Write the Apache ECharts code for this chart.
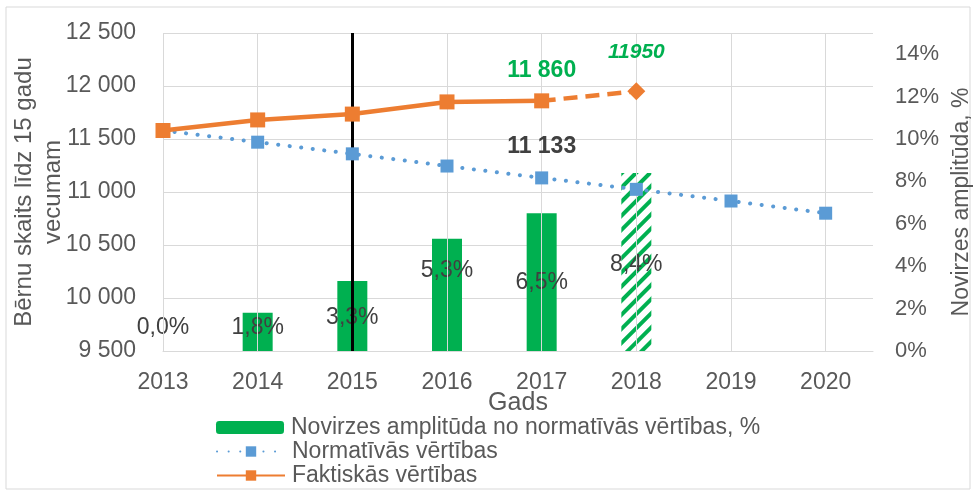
<!DOCTYPE html>
<html><head><meta charset="utf-8">
<script src="https://cdn.jsdelivr.net/npm/echarts@6/dist/echarts.min.js"></script>
<style>html,body{margin:0;padding:0;background:#fff}#c{width:976px;height:493px}</style>
</head><body><div id="c"></div>
<script>
const years = [2013, 2014, 2015, 2016, 2017, 2018, 2019, 2020];
const barYears = [2013, 2014, 2015, 2016, 2017, 2018];
const deviationPct = [0, 1.8, 3.3, 5.3, 6.5, 8.4];
const normative = [11580, 11470, 11360, 11245, 11133, 11025, 10915, 10800];
const actualYears = [2013, 2014, 2015, 2016, 2017];
const actual = [11580, 11680, 11735, 11850, 11860];
const forecastYears = [2017, 2018];
const forecast = [11860, 11950];
const leftTicks = [9500, 10000, 10500, 11000, 11500, 12000, 12500];
const rightTicks = [0, 2, 4, 6, 8, 10, 12, 14];
const legendNames = ['Novirzes amplitūda no normatīvās vērtības, %', 'Normatīvās vērtības', 'Faktiskās vērtības'];

const FONT = 'Liberation Sans, Arial, sans-serif';
const GREY = '#595959';
const fmtThousands = v => String(v).replace(/\B(?=(\d{3})+(?!\d))/g, ' ');
const fmtPct = v => v.toFixed(1).replace('.', ',') + '%';
const barLabelOffsets = [-23, -4, 2, -24, 1, 3];
const legendTops = [416, 440, 464];

const chart = echarts.init(document.getElementById('c'));
chart.setOption({
  animation: false,
  textStyle: {fontFamily: FONT},
  graphic: [{type: 'rect', shape: {x: 6, y: 7, width: 964, height: 482}, style: {fill: 'none', stroke: '#d9d9d9', lineWidth: 1}, silent: true}],
  grid: {left: 163, right: 103, top: 33, bottom: 142, containLabel: false, outerBoundsMode: 'none'},
  legend: legendNames.map((n, i) => ({
    orient: 'vertical', left: 216, top: legendTops[i], itemWidth: 68, itemHeight: 13, padding: 0,
    data: [n],
    textStyle: {fontSize: 23, color: GREY, fontFamily: FONT, padding: [0, 0, 0, 2]}
  })),
  xAxis: {
    type: 'value', min: 2013, max: 2020.5, interval: 1,
    name: 'Gads', nameLocation: 'middle', nameGap: 40, nameMoveOverlap: false,
    nameTextStyle: {fontSize: 25, color: GREY},
    axisLine: {show: true, lineStyle: {color: '#d9d9d9'}},
    axisTick: {show: false},
    splitLine: {show: false},
    axisLabel: {fontSize: 23, color: GREY, margin: 20, showMaxLabel: false, formatter: v => String(v)}
  },
  yAxis: [{
    type: 'value', min: leftTicks[0], max: leftTicks[leftTicks.length - 1], interval: 500,
    name: 'Bērnu skaits līdz 15 gadu\nvecumam', nameLocation: 'middle', nameGap: 95, nameRotate: 90, nameMoveOverlap: false,
    nameTextStyle: {fontSize: 24, color: GREY, lineHeight: 29},
    axisLine: {show: false}, axisTick: {show: false},
    splitLine: {lineStyle: {color: '#d9d9d9', width: 1}},
    axisLabel: {fontSize: 23, color: GREY, margin: 27, formatter: fmtThousands}
  }, {
    type: 'value', min: 0, max: 15, interval: 2,
    name: 'Novirzes amplitūda, %', nameLocation: 'middle', nameGap: 75, nameRotate: 90,
    nameTextStyle: {fontSize: 23, color: GREY, padding: [0, 20, 0, 0]},
    axisLine: {show: false}, axisTick: {show: false}, splitLine: {show: false},
    axisLabel: {fontSize: 22, color: GREY, margin: 22, showMaxLabel: false, formatter: v => v + '%'}
  }],
  series: [{
    name: legendNames[0], type: 'bar', yAxisIndex: 1, barWidth: 30,
    itemStyle: {color: '#00B050'},
    data: barYears.map((y, i) => {
      const item = {value: [y, deviationPct[i]],
        label: {show: true, position: 'inside', offset: [0, barLabelOffsets[i]], formatter: fmtPct(deviationPct[i]),
          fontSize: 23, color: '#404040', fontFamily: FONT}};
      if (i === barYears.length - 1) {
        item.itemStyle = {color: '#ffffff', decal: {symbol: 'rect', color: '#00B050', dashArrayX: [1, 0], dashArrayY: [4, 6], rotation: -Math.PI / 4, symbolSize: 1}};
      }
      return item;
    }),
    markLine: {
      silent: true, symbol: 'none', label: {show: false},
      data: years.map(y => ({xAxis: y, lineStyle: {color: '#d9d9d9', width: 1, type: 'solid'}}))
        .concat([{xAxis: 2015, lineStyle: {color: '#000', width: 3, type: 'solid'}}])
    },
    z: 1
  }, {
    name: legendNames[1], type: 'line', yAxisIndex: 0,
    data: years.map((y, i) => ({value: [y, normative[i]],
      label: i === 4 ? {show: true, position: 'top', distance: 13, formatter: fmtThousands(normative[i]), fontSize: 23, fontWeight: 'bold', color: '#404040'} : undefined})),
    lineStyle: {color: '#5B9BD5', width: 4, type: [0.1, 11.5], cap: 'round'},
    itemStyle: {color: '#5B9BD5'}, symbol: 'rect', symbolSize: 13, z: 5
  }, {
    name: legendNames[2], type: 'line', yAxisIndex: 0,
    data: actualYears.map((y, i) => ({value: [y, actual[i]],
      label: i === actualYears.length - 1 ? {show: true, position: 'top', distance: 11, formatter: fmtThousands(actual[i]), fontSize: 23, fontWeight: 'bold', color: '#00B050'} : undefined})),
    lineStyle: {color: '#ED7D31', width: 4.5}, itemStyle: {color: '#ED7D31'}, symbol: 'rect', symbolSize: 15, z: 6
  }, {
    name: 'Prognoze', type: 'line', yAxisIndex: 0,
    data: forecastYears.map((y, i) => ({value: [y, forecast[i]],
      symbol: i === 0 ? 'none' : 'diamond',
      label: i === 1 ? {show: true, position: 'top', distance: 20, formatter: String(forecast[i]), fontSize: 21, fontWeight: 'bold', fontStyle: 'italic', color: '#00B050'} : undefined})),
    lineStyle: {color: '#ED7D31', width: 4.5, type: [14, 8]}, itemStyle: {color: '#ED7D31'}, symbolSize: 18, z: 6
  }]
});
</script></body></html>
